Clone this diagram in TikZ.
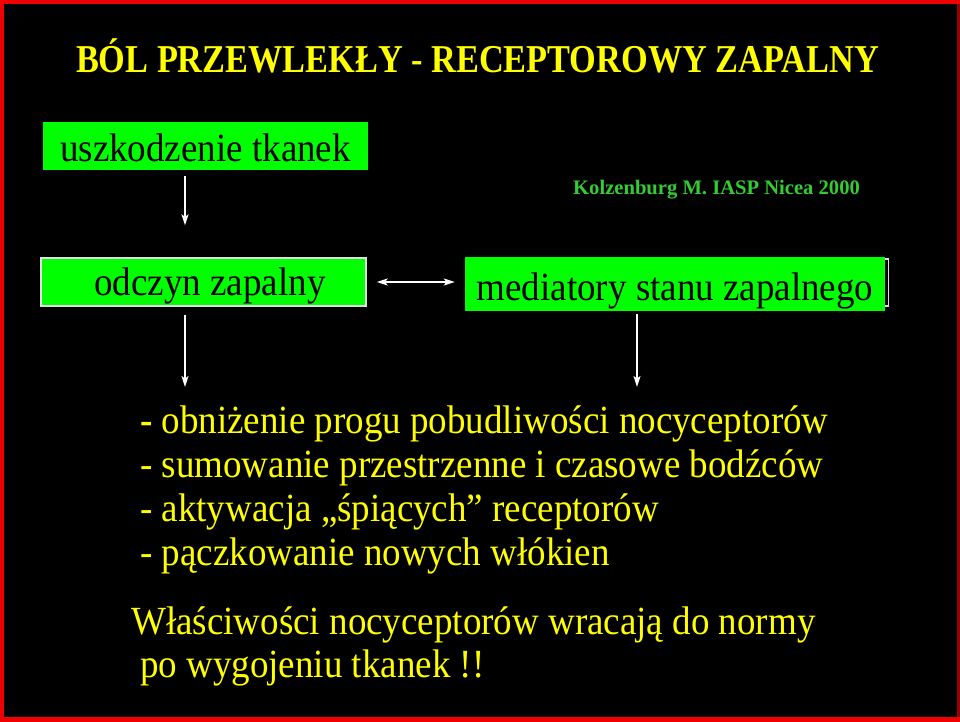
\documentclass[tikz,border=0pt]{standalone}
\usepackage{fontspec}
\usepackage{graphicx}
\setmainfont{Liberation Serif}
\usetikzlibrary{arrows.meta}
\definecolor{framered}{RGB}{240,0,0}
\definecolor{framedark}{RGB}{150,0,0}
\definecolor{boxgreen}{RGB}{0,255,0}
\definecolor{txtyellow}{RGB}{255,255,0}
\definecolor{refgreen}{RGB}{50,205,50}
\definecolor{edgewhite}{RGB}{225,225,225}
\newcommand{\vstr}[1]{\scalebox{1}[1.08]{#1}}
\begin{document}
\begin{tikzpicture}[x=1pt,y=-1pt,
  gbox/.style={fill=boxgreen, inner sep=0pt, text=black, font=\fontsize{37}{44}\selectfont},
  wedge/.style={draw=edgewhite, line width=1.4pt},
  arr/.style={draw=white, line width=1.4pt, -{Stealth[length=11pt,width=7pt,inset=2.5pt]}},
  darr/.style={draw=white, line width=1.4pt, {Stealth[length=11pt,width=7pt,inset=2.5pt]}-{Stealth[length=11pt,width=7pt,inset=2.5pt]}},
  yline/.style={text=txtyellow, font=\fontsize{37}{44}\selectfont, inner sep=0pt, anchor=base west},
  titlestyle/.style={text=txtyellow, font=\bfseries\fontsize{34.3}{40}\selectfont, inner sep=0pt, anchor=base},
  refstyle/.style={text=refgreen, font=\bfseries\fontsize{20.6}{24}\selectfont, inner sep=0pt, anchor=base west}
]
\useasboundingbox (0,0) rectangle (960,722);
% frame
\fill[framered] (0,0) rectangle (960,722);
\fill[black] (4,4) rectangle (957,717);
\fill[framedark] (957,4) rectangle (960,717);

% title and reference
\node[titlestyle] (title) at (477.5,73) {\scalebox{1}[1.15]{BÓL PRZEWLEKŁY - RECEPTOROWY ZAPALNY}};
\node[refstyle] (ref) at (573,194) {Kolzenburg M. IASP Nicea 2000};

% boxes
\node[gbox, minimum width=325pt, minimum height=48pt, text height=40pt, text depth=8pt] (b1) at (205.5,146) {\vstr{uszkodzenie tkanek}};
\node[gbox, wedge, minimum width=325pt, minimum height=48pt, text height=37pt, text depth=11pt] (b2) at (203.5,282) {\hspace*{13pt}\vstr{odczyn zapalny}};
\draw[wedge] (470,259) rectangle (888.5,306);
\node[gbox, minimum width=420pt, minimum height=54pt, text height=43pt, text depth=11pt] (b3) at (675,284) {\vstr{mediatory stanu zapalnego}};

% arrow positions
\coordinate (ax1) at (185,0);
\coordinate (ax2) at (637,0);
\coordinate (listtop) at (0,387);

\draw[arr, shorten <=6pt, shorten >=32pt] (b1.south -| ax1) -- (b2.north -| ax1);
\draw[darr, shorten <=10pt, shorten >=10pt] (b2.east) -- (b2.east -| b3.west);
\draw[arr, shorten <=8pt] (b2.south -| ax1) -- (listtop -| ax1);
\draw[arr, shorten <=3pt] (b3.south -| ax2) -- (listtop -| ax2);

% list
\node[yline] (l1) at (140,433) {\vstr{\textbf{-} obniżenie progu pobudliwości nocyceptorów}};
\node[yline] (l2) at (140,477) {\vstr{- sumowanie przestrzenne i czasowe bodźców}};
\node[yline] (l3) at (140,521) {\vstr{- aktywacja „śpiących” receptorów}};
\node[yline] (l4) at (140,565) {\vstr{- pączkowanie nowych włókien}};

% conclusion
\node[yline] (n1) at (131,634) {\vstr{Właściwości nocyceptorów wracają do normy}};
\node[yline] (n2) at (140,677) {\vstr{po wygojeniu tkanek !!}};
\end{tikzpicture}
\end{document}
